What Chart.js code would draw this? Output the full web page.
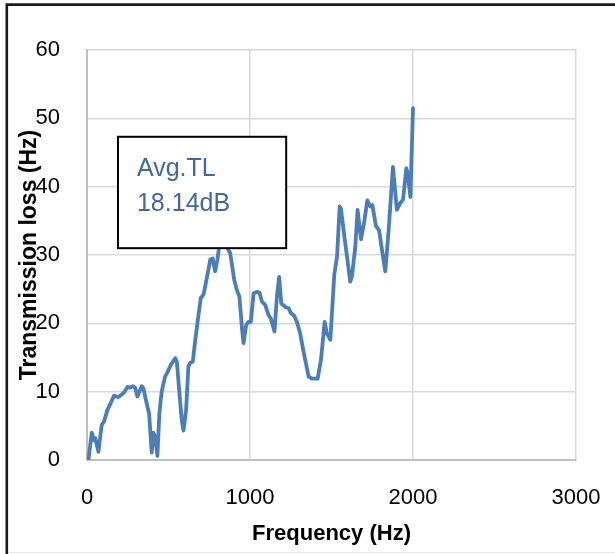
<!DOCTYPE html>
<html>
<head>
<meta charset="utf-8">
<script src="https://cdn.jsdelivr.net/npm/chart.js@4.4.1/dist/chart.umd.min.js"></script>
<style>
  html, body { margin: 0; padding: 0; background: #fff; }
  #wrap { position: relative; width: 615px; height: 554px; }
</style>
</head>
<body>
<div id="wrap"><canvas id="c" width="615" height="554"></canvas></div>
<script>
// Frequency (Hz)
const freqs = [10, 29, 43, 51, 70, 90, 104, 125, 141, 166, 192, 213, 229, 248, 264, 281, 295, 309, 321, 336, 346, 366, 381, 397, 407, 418, 432, 444, 458, 479, 493, 514, 541, 551, 567, 581, 592, 608, 622, 633, 649, 663, 680, 698, 715, 735, 756, 771, 786, 800, 815, 832, 850, 862, 878, 888, 903, 919, 935, 950, 960, 977, 991, 1005, 1022, 1042, 1058, 1073, 1093, 1114, 1128, 1150, 1165, 1179, 1192, 1216, 1237, 1251, 1271, 1288, 1308, 1329, 1360, 1380, 1415, 1435, 1458, 1472, 1493, 1517, 1534, 1550, 1558, 1579, 1595, 1615, 1625, 1646, 1660, 1681, 1701, 1720, 1738, 1751, 1772, 1792, 1810, 1830, 1851, 1877, 1901, 1922, 1939, 1959, 1967, 1984, 2000];
// Transmission loss
const tl = [0.2, 4.0, 2.9, 3.2, 1.2, 5.1, 5.6, 7.3, 8.1, 9.4, 9.2, 9.6, 9.9, 10.7, 10.6, 10.8, 10.6, 9.3, 10.0, 10.8, 10.5, 8.3, 6.8, 1.1, 4.0, 3.4, 0.6, 6.8, 10.0, 12.2, 12.8, 13.9, 14.9, 14.4, 9.8, 5.9, 4.3, 7.3, 13.7, 14.2, 14.4, 17.3, 20.5, 23.7, 24.2, 26.6, 29.3, 29.5, 27.6, 29.3, 32.0, 33.0, 31.8, 31.0, 30.3, 28.8, 26.4, 24.9, 23.9, 19.5, 17.1, 19.8, 20.2, 20.2, 24.4, 24.6, 24.5, 23.2, 22.7, 21.2, 20.7, 18.8, 23.9, 26.8, 22.9, 22.4, 22.2, 21.5, 21.1, 20.2, 18.5, 15.8, 12.2, 11.9, 11.9, 14.6, 20.2, 18.5, 17.6, 27.1, 29.8, 37.1, 36.8, 32.7, 29.8, 26.1, 26.8, 31.2, 36.6, 32.3, 34.9, 38.0, 37.1, 37.3, 34.3, 33.6, 30.7, 27.6, 33.8, 42.9, 36.6, 37.6, 38.1, 42.7, 42.0, 38.5, 51.5];

const xTicks = [0, 1000, 2000, 3000];
const yTicks = [0, 10, 20, 30, 40, 50, 60];
const noteLines = ['Avg.TL', '18.14dB'];
// note box bounds in data units: [xLeft, xRight, yTop, yBottom]
const noteBox = [190, 1222, 47.3, 31.0];

const points = freqs.map((f, i) => ({ x: f, y: tl[i] }));

const notePlugin = {
  id: 'note',
  afterDatasetsDraw(chart) {
    const ctx = chart.ctx;
    const xs = chart.scales.x, ys = chart.scales.y;
    const l = xs.getPixelForValue(noteBox[0]);
    const r = xs.getPixelForValue(noteBox[1]);
    const t = ys.getPixelForValue(noteBox[2]);
    const b = ys.getPixelForValue(noteBox[3]);
    ctx.save();
    ctx.fillStyle = '#ffffff';
    ctx.fillRect(l, t, r - l, b - t);
    ctx.lineWidth = 2;
    ctx.strokeStyle = '#000000';
    ctx.strokeRect(l, t, r - l, b - t);
    ctx.fillStyle = '#41689F';
    ctx.font = '25px "Liberation Sans", Arial, sans-serif';
    ctx.textBaseline = 'alphabetic';
    ctx.textAlign = 'left';
    noteLines.forEach((s, i) => ctx.fillText(s, l + 19, t + 39 + i * 35));
    ctx.restore();
  }
};

const framePlugin = {
  id: 'frame',
  afterDraw(chart) {
    const ctx = chart.ctx;
    ctx.save();
    ctx.strokeStyle = '#1a1a1a';
    ctx.lineWidth = 2.6;
    ctx.beginPath();
    ctx.moveTo(6.8, 554);
    ctx.lineTo(6.8, 4.6);
    ctx.lineTo(615, 4.6);
    ctx.stroke();
    ctx.strokeStyle = '#e6e6e6';
    ctx.lineWidth = 1;
    ctx.beginPath();
    ctx.moveTo(8, 552.5);
    ctx.lineTo(615, 552.5);
    ctx.stroke();
    ctx.restore();
  }
};

const bgPlugin = {
  id: 'bg',
  beforeDraw(chart) {
    const ctx = chart.ctx;
    ctx.save();
    ctx.fillStyle = '#fff';
    ctx.fillRect(0, 0, chart.width, chart.height);
    ctx.restore();
  }
};

const FONT = '"Liberation Sans", Arial, sans-serif';

new Chart(document.getElementById('c'), {
  type: 'scatter',
  data: {
    datasets: [{
      data: points,
      showLine: true,
      borderColor: '#4A7EBB',
      backgroundColor: '#4A7EBB',
      borderWidth: 3.8,
      pointRadius: 0,
      tension: 0,
      borderJoinStyle: 'round',
      borderCapStyle: 'round'
    }]
  },
  options: {
    responsive: false,
    animation: false,
    devicePixelRatio: 1,
    layout: { padding: { left: 0, right: 39, top: 50, bottom: 0 } },
    plugins: { legend: { display: false }, tooltip: { enabled: false } },
    scales: {
      x: {
        type: 'linear',
        min: 0, max: 3000,
        afterFit(s) { s.height = 94; s.paddingLeft = 0; s.paddingRight = 0; },
        afterBuildTicks(s) { s.ticks = xTicks.map(v => ({ value: v })); },
        grid: { color: '#d9d9d9', lineWidth: 1.5, drawTicks: false },
        border: { color: '#bfbfbf', width: 2 },
        ticks: { color: '#000', font: { family: FONT, size: 22 }, padding: 25, maxRotation: 0, callback: v => String(v) },
        title: { display: true, text: 'Frequency (Hz)', color: '#000', font: { family: FONT, size: 22, weight: 'bold' }, padding: { top: 0, bottom: 7 } }
      },
      y: {
        type: 'linear',
        min: 0, max: 60,
        afterFit(s) { s.width = 87; s.paddingTop = 0; s.paddingBottom = 0; },
        afterBuildTicks(s) { s.ticks = yTicks.map(v => ({ value: v })); },
        grid: { color: '#d9d9d9', lineWidth: 1.5, drawTicks: false },
        border: { color: '#bfbfbf', width: 2 },
        ticks: { color: '#000', font: { family: FONT, size: 22 }, padding: 27, callback: v => String(v) },
        title: { display: true, text: 'Transmission loss (Hz)', color: '#000', font: { family: FONT, size: 23, weight: 'bold' }, padding: { top: 16, bottom: 0 } }
      }
    }
  },
  plugins: [bgPlugin, notePlugin, framePlugin]
});
</script>
</body>
</html>
